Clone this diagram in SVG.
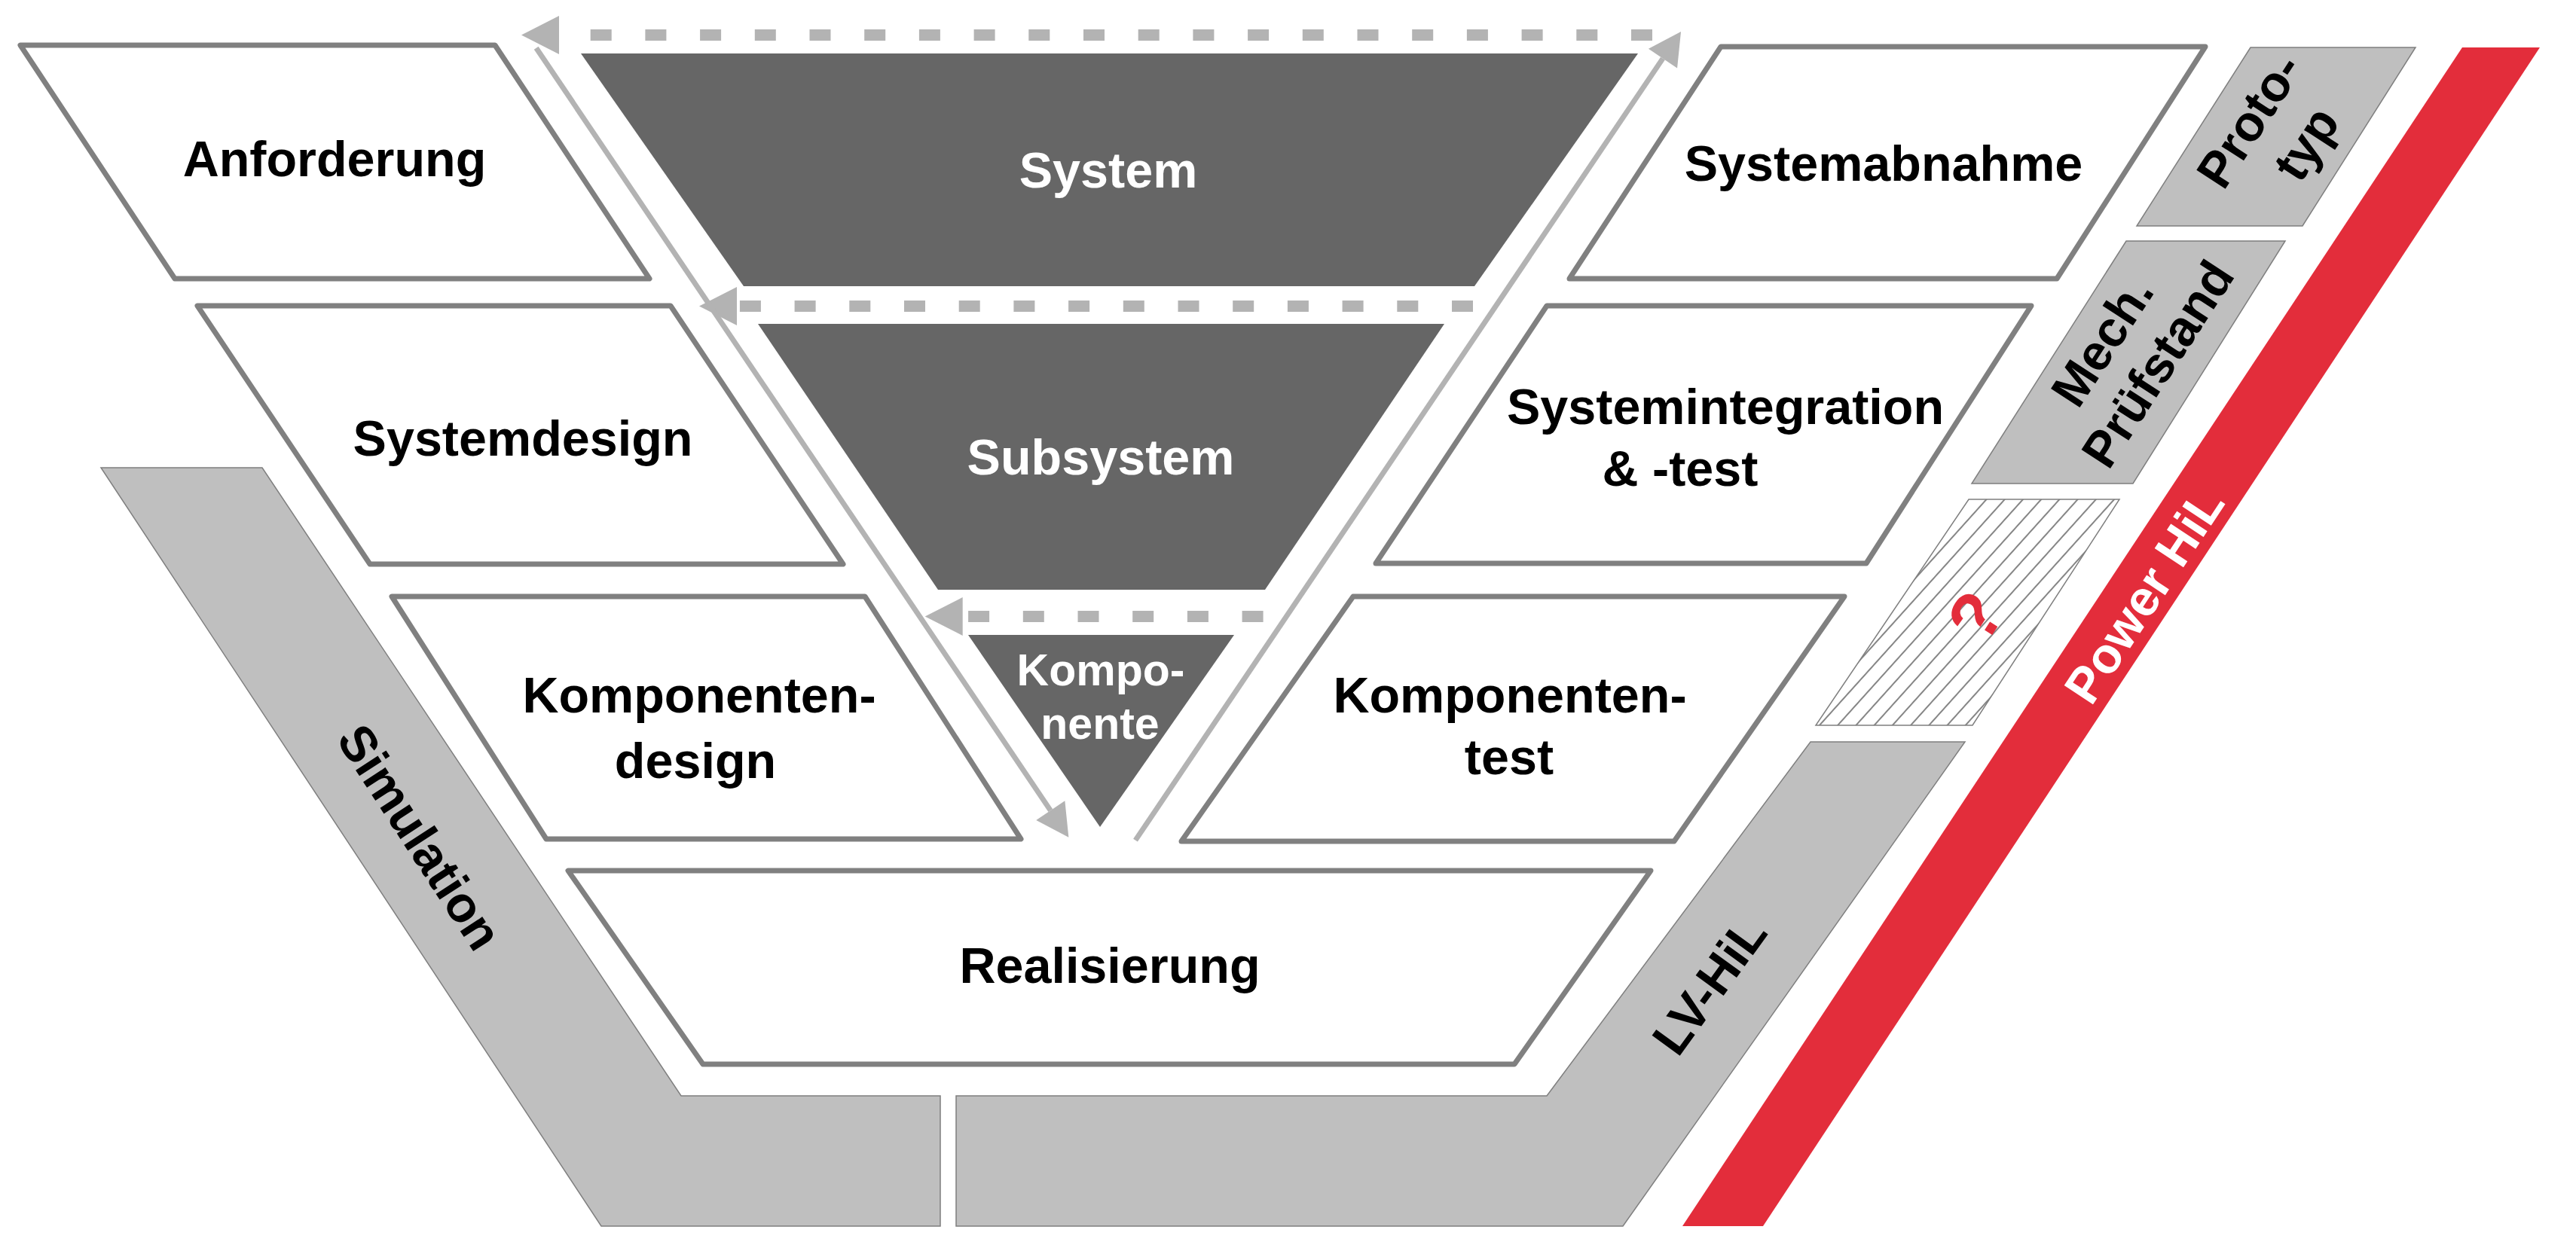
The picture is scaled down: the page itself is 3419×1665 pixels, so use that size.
<svg xmlns="http://www.w3.org/2000/svg" width="3419" height="1665" viewBox="0 0 3419 1665">
<style>
.box{fill:#ffffff;stroke:#808080;stroke-width:7;stroke-linejoin:round}
.dark{fill:#666666;stroke:none}
.band{fill:#bfbfbf;stroke:#7f7f7f;stroke-width:1.5}
.red{fill:#e32d3b;stroke:none}
.t{font-family:"Liberation Sans",Arial,Helvetica,sans-serif;font-weight:bold;font-size:66.5px;text-anchor:middle;fill:#000000}
.w{fill:#ffffff}
.sm{font-size:59px}
.q{fill:#e32d3b;font-size:92px}
.arrow{fill:none;stroke:#b3b3b3;stroke-width:7}
.dash{fill:none;stroke:#b3b3b3;stroke-width:15;stroke-dasharray:28 44.7}
</style>
<defs>
<marker id="arr" markerUnits="userSpaceOnUse" markerWidth="44" markerHeight="46" refX="0" refY="23" orient="auto" overflow="visible">
<path d="M0,0 L43,23 L0,46 Z" fill="#b3b3b3" stroke="none"/>
</marker>
<marker id="arrD" markerUnits="userSpaceOnUse" markerWidth="50" markerHeight="51" refX="0" refY="25.5" orient="auto" overflow="visible">
<path d="M0,0 L50,25.5 L0,51 Z" fill="#b3b3b3" stroke="none"/>
</marker>
<pattern id="hatch" patternUnits="userSpaceOnUse" width="18" height="20" patternTransform="rotate(42)">
<path d="M9,-2 L9,22" stroke="#333333" stroke-width="1.2" fill="none"/>
</pattern>
</defs>

<g id="simulation">
<polygon class="band" points="134,621 348,621 904,1455 1248,1455 1248,1628 798,1628"/>
<text class="t" transform="translate(558,1111) rotate(57)" y="24">Simulation</text>
</g>
<g id="lv-hil">
<polygon class="band" points="1269,1455 2053,1455 2403,985 2608,985 2154,1628 1269,1628"/>
<text class="t" transform="translate(2268,1308) rotate(-54)" y="24">LV-HiL</text>
</g>
<g id="power-hil">
<polygon class="red" points="3268,63 3371,63 2340,1628 2233,1628"/>
<text class="t w" transform="translate(2845,790) rotate(-56.6)" y="24">Power HiL</text>
</g>
<g id="prototyp">
<polygon class="band" points="2987,63 3206,63 3056,300 2836,300"/>
<text class="t" transform="translate(3018,181) rotate(-57)"><tspan x="0" y="-16">Proto-</tspan><tspan x="15" y="64">typ</tspan></text>
</g>
<g id="mech-pruefstand">
<polygon class="band" points="2822,320 3033,320 2831,642 2617,642"/>
<text class="t" transform="translate(2822,474) rotate(-57)"><tspan x="0" y="-15">Mech.</tspan><tspan x="15" y="63">Prüfstand</tspan></text>
</g>
<g id="unknown">
<polygon points="2613,663 2813,663 2618,963 2410,963" fill="url(#hatch)" stroke="#7f7f7f" stroke-width="1.5"/>
<text class="t q" transform="translate(2621,818) rotate(-57)" y="33">?</text>
</g>

<g id="anforderung">
<polygon class="box" points="27,60 657,60 862,370 232,370"/>
<text class="t" x="444" y="234">Anforderung</text>
</g>
<g id="systemdesign">
<polygon class="box" points="262,406 890,406 1119,749 491,749"/>
<text class="t" x="694" y="605">Systemdesign</text>
</g>
<g id="komponentendesign">
<polygon class="box" points="520,792 1148,792 1355,1114 725,1114"/>
<text class="t"><tspan x="928" y="946">Komponenten-</tspan><tspan x="923" y="1033">design</tspan></text>
</g>
<g id="realisierung">
<polygon class="box" points="754,1156 2191,1156 2010,1413 933,1413"/>
<text class="t" x="1473" y="1305">Realisierung</text>
</g>
<g id="systemabnahme">
<polygon class="box" points="2284,62 2927,62 2730,370 2083,370"/>
<text class="t" x="2500" y="240">Systemabnahme</text>
</g>
<g id="systemintegration">
<polygon class="box" points="2053,406 2696,406 2477,748 1826,748"/>
<text class="t"><tspan x="2290" y="563">Systemintegration</tspan><tspan x="2230" y="645">&amp; -test</tspan></text>
</g>
<g id="komponententest">
<polygon class="box" points="1796,792 2448,792 2222,1117 1568,1117"/>
<text class="t"><tspan x="2004" y="946">Komponenten-</tspan><tspan x="2003" y="1028">test</tspan></text>
</g>

<g id="system">
<polygon class="dark" points="771,71 2174,71 1957,380 987,380"/>
<text class="t w" x="1471" y="249">System</text>
</g>
<g id="subsystem">
<polygon class="dark" points="1006,430 1917,430 1679,783 1245,783"/>
<text class="t w" x="1461" y="630">Subsystem</text>
</g>
<g id="komponente">
<polygon class="dark" points="1285,843 1638,843 1460,1098"/>
<text class="t w sm"><tspan x="1461" y="910">Kompo-</tspan><tspan x="1460" y="981">nente</tspan></text>
</g>

<g id="connectors">
<path class="dash" d="M2193,46.5 L742,46.5" marker-end="url(#arrD)"/>
<path class="dash" d="M1955,406.6 L978,406.6" marker-end="url(#arrD)"/>
<path class="dash" d="M1676.6,818.5 L1277.7,818.5" marker-end="url(#arrD)"/>
<path class="arrow" d="M711.7,63.8 L1394.3,1076.1" marker-end="url(#arr)"/>
<path class="arrow" d="M1507,1115.6 L2207,77.6" marker-end="url(#arr)"/>
</g>
</svg>
